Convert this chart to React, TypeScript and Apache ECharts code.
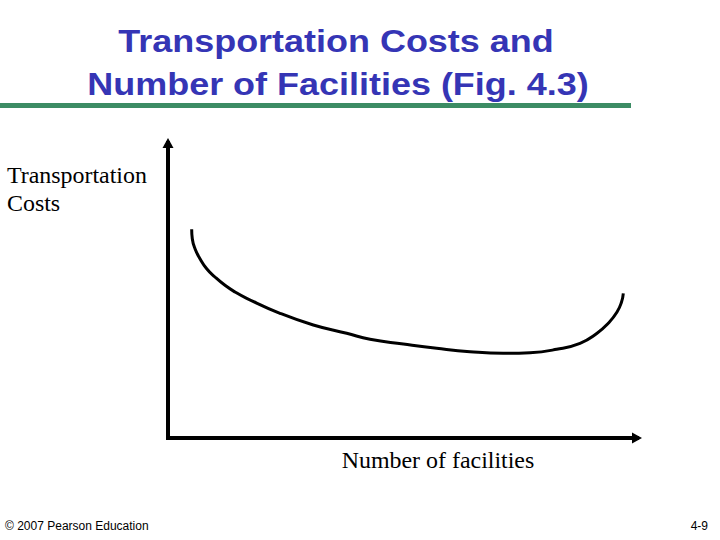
import React, { useEffect, useRef } from "react";
import * as echarts from "echarts";

const titleLines = ["Transportation Costs and", "Number of Facilities (Fig. 4.3)"];
const yAxisLabelLines = ["Transportation", "Costs"];
const xAxisLabel = "Number of facilities";
const footerLeft = "© 2007 Pearson Education";
const footerRight = "4-9";

// Number of facilities (relative scale 0-100)
const facilities = [5.05, 5.18, 5.76, 6.82, 8.25, 10.02, 12.15, 14.29, 16.78, 23.88, 30.98, 38.1, 43.07, 50.17, 57.29, 64.39, 71.49, 77.19, 82.88, 87.85, 91.41, 93.92, 95.74, 96.7, 97.08];
// Transportation costs (relative scale 0-100)
const costs = [70.75, 67.56, 64.17, 60.78, 57.39, 54.58, 51.76, 49.49, 47.36, 42.27, 38.31, 35.49, 33.46, 31.86, 30.41, 29.25, 28.71, 28.92, 30.07, 32.1, 35.42, 38.98, 42.71, 46.1, 49.05];

export default function App() {
  const ref = useRef<HTMLDivElement>(null);
  useEffect(() => {
    if (!ref.current) return;
    const chart = echarts.init(ref.current, null, { renderer: "svg" });
    const axisLine = {
      show: true,
      symbol: ["none", "triangle"],
      symbolSize: [11, 10],
      lineStyle: { color: "#000", width: 4, cap: "square" },
    };
    chart.setOption({
      animation: false,
      backgroundColor: "#ffffff",
      grid: { left: 168, right: 83, top: 143, bottom: 102, containLabel: false },
      xAxis: {
        type: "value",
        min: 0,
        max: 100,
        axisLine,
        axisTick: { show: false },
        axisLabel: { show: false },
        splitLine: { show: false },
      },
      yAxis: {
        type: "value",
        min: 0,
        max: 100,
        axisLine,
        axisTick: { show: false },
        axisLabel: { show: false },
        splitLine: { show: false },
      },
      series: [
        {
          type: "line",
          data: facilities.map((x, i) => [x, costs[i]]),
          smooth: 0.5,
          showSymbol: false,
          lineStyle: { color: "#000", width: 3 },
          silent: true,
        },
      ],
      graphic: [
        {
          type: "text",
          x: 336,
          y: 41,
          scaleX: 1.16,
          style: {
            text: titleLines[0],
            fontFamily: "Liberation Sans, Arial, sans-serif",
            fontWeight: "bold",
            fontSize: 31,
            fill: "#3535B5",
            align: "center",
            verticalAlign: "middle",
          },
        },
        {
          type: "text",
          x: 338,
          y: 84,
          scaleX: 1.16,
          style: {
            text: titleLines[1],
            fontFamily: "Liberation Sans, Arial, sans-serif",
            fontWeight: "bold",
            fontSize: 31,
            fill: "#3535B5",
            align: "center",
            verticalAlign: "middle",
          },
        },
        {
          type: "rect",
          shape: { x: 0, y: 103, width: 631, height: 5 },
          style: { fill: "#3C8C64" },
        },
        {
          type: "text",
          x: 7,
          y: 175,
          scaleX: 1.04,
          style: {
            text: yAxisLabelLines[0],
            fontFamily: "Liberation Serif, Times New Roman, serif",
            fontSize: 23,
            fill: "#000",
            align: "left",
            verticalAlign: "middle",
          },
        },
        {
          type: "text",
          x: 7,
          y: 203.5,
          scaleX: 1.04,
          style: {
            text: yAxisLabelLines[1],
            fontFamily: "Liberation Serif, Times New Roman, serif",
            fontSize: 23,
            fill: "#000",
            align: "left",
            verticalAlign: "middle",
          },
        },
        {
          type: "text",
          x: 438,
          y: 460,
          scaleX: 1.04,
          style: {
            text: xAxisLabel,
            fontFamily: "Liberation Serif, Times New Roman, serif",
            fontSize: 23,
            fill: "#000",
            align: "center",
            verticalAlign: "middle",
          },
        },
        {
          type: "text",
          x: 5,
          y: 526,
          style: {
            text: footerLeft,
            fontFamily: "Liberation Sans, Arial, sans-serif",
            fontSize: 12,
            fill: "#000",
            align: "left",
            verticalAlign: "middle",
          },
        },
        {
          type: "text",
          x: 708,
          y: 526,
          style: {
            text: footerRight,
            fontFamily: "Liberation Sans, Arial, sans-serif",
            fontSize: 12,
            fill: "#000",
            align: "right",
            verticalAlign: "middle",
          },
        },
      ],
    });
    return () => chart.dispose();
  }, []);
  return (
    <div
      ref={ref}
      style={{ position: "fixed", left: 0, top: 0, width: 720, height: 540, background: "#fff" }}
    />
  );
}
